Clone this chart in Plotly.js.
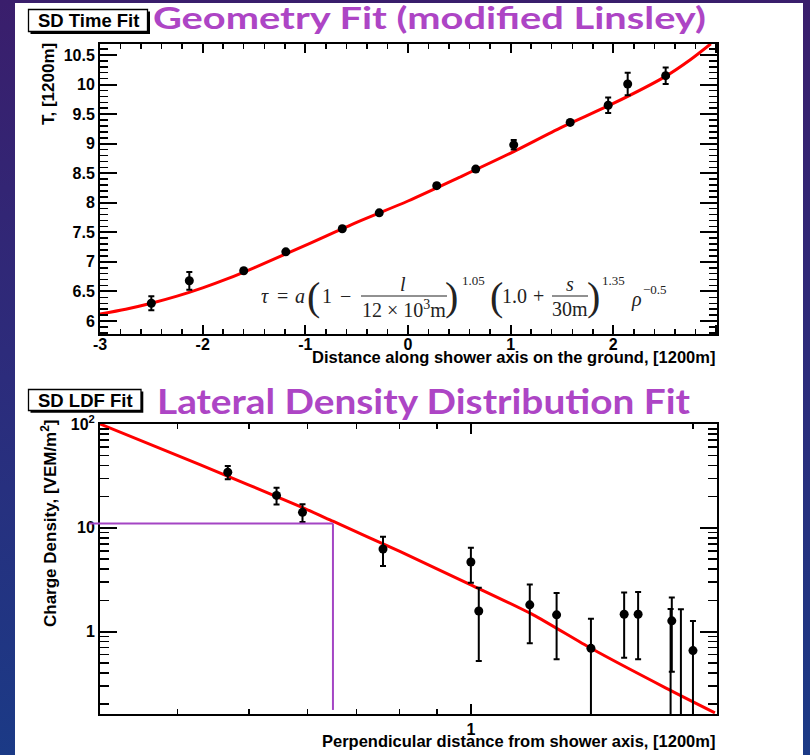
<!DOCTYPE html>
<html><head><meta charset="utf-8">
<script src="https://cdn.plot.ly/plotly-3.0.1.min.js"></script>
<style>
html,body{margin:0;padding:0;width:810px;height:755px;overflow:hidden;
background:linear-gradient(180deg,#3a1e6c 0%,#2c2c7c 50%,#1b3a86 100%);}
#chart{width:810px;height:755px;}
</style></head><body><div id="chart"></div>
<script>
// ---------- data: top panel (SD time fit) ----------
const timeX   = [-2.50, -2.13, -1.60, -1.19, -0.64, -0.28, 0.28, 0.66, 1.03, 1.58, 1.95, 2.14, 2.51];
const timeY   = [6.30, 6.68, 6.85, 7.17, 7.56, 7.83, 8.29, 8.57, 8.98, 9.36, 9.65, 10.01, 10.15];
const timeErr = [0.12, 0.15, 0.03, 0.03, 0.03, 0.03, 0.03, 0.03, 0.08, 0.03, 0.13, 0.19, 0.14];
const timeFitX = [-3.0, -2.75, -2.5, -2.25, -2.0, -1.75, -1.5, -1.0, -0.5, 0.0, 0.5, 1.0, 1.5, 2.0, 2.5, 2.75, 2.95];
const timeFitY = [6.12, 6.20, 6.30, 6.42, 6.56, 6.72, 6.90, 7.28, 7.67, 8.03, 8.43, 8.84, 9.28, 9.68, 10.13, 10.42, 10.69];
const timeXTicks = [-3, -2, -1, 0, 1, 2, 3];
const timeXTickText = ["-3", "-2", "-1", "0", "1", "2", ""];

// ---------- data: bottom panel (LDF fit) ----------
const ldfX   = [0.468, 0.545, 0.591, 0.760, 1.000, 1.025, 1.202, 1.307, 1.455, 1.614, 1.686, 1.866, 1.873, 1.927, 2.001];
const ldfY   = [34.3, 20.5, 14.1, 6.24, 4.68, 1.58, 1.81, 1.45, 0.69, 1.47, 1.47, 0.10, 1.27, 0.12, 0.656];
const ldfErr = [5.0, 3.75, 2.75, 1.95, 1.73, 1.06, 1.04, 0.91, 0.64, 0.91, 0.93, 1.55, 0.86, 1.52, 0.61];
const ldfFitX = [0.314, 0.429, 0.586, 0.651, 0.801, 1.0, 1.215, 1.455, 1.842, 2.143];
const ldfFitY = [100, 40.6, 16.1, 11.5, 5.92, 2.82, 1.45, 0.69, 0.284, 0.165];
const ldfYTicks = [1, 10, 100];
const ldfYTickText = ["1", "10", "10<sup>2</sup>"];
const ldfYMinor = [0.2,0.3,0.4,0.5,0.6,0.7,0.8,0.9,2,3,4,5,6,7,8,9,20,30,40,50,60,70,80,90];
const ldfXTicks = [1];
const ldfXTickText = ["1"];
const ldfXMinor = [0.4,0.5,0.6,0.7,0.8,0.9,2];
const s800X = 0.65, s800Y = 11.0;   // marked reference point

const title1 = "Geometry Fit (modified Linsley)";
const title2 = "Lateral Density Distribution Fit";

// ---------- layout helpers ----------
const W = 810, H = 755;
const px = x => x / W;
const py = y => 1 - y / H;
const xr2 = [Math.log10(0.314), Math.log10(2.157)];
const yr2 = [-0.794, 2.0];

const tickFont = {family: "Liberation Sans, Arial, sans-serif", size: 16, color: "#000", weight: "bold"};
const mathFont = {family: "Liberation Serif, Times New Roman, serif", size: 20, color: "#222"};
const parenFont = {family: "Liberation Serif, serif", size: 40, color: "#222"};
const supFont = {family: "Liberation Serif, serif", size: 13, color: "#222"};
const titleFont1 = {family: "Lato, sans-serif", size: 30, color: "#ad45c5", weight: "bold"};
const titleFont2 = {family: "Lato, sans-serif", size: 35, color: "#ad45c5", weight: "bold"};
const axTitleFont = {family: "Liberation Sans, Arial, sans-serif", size: 16.5, color: "#000", weight: "bold"};
const ayTitleFont = {family: "Liberation Sans, Arial, sans-serif", size: 17, color: "#000", weight: "bold"};
const boxFont = {family: "Liberation Sans, Arial, sans-serif", size: 18.5, color: "#000", weight: "bold"};

const traces = [
  {x: timeFitX, y: timeFitY, type: "scatter", mode: "lines", xaxis: "x", yaxis: "y",
   line: {color: "#ff0000", width: 3, shape: "spline", smoothing: 0.8}, hoverinfo: "skip"},
  {x: timeX, y: timeY, type: "scatter", mode: "markers", xaxis: "x", yaxis: "y",
   marker: {color: "#000", size: 9},
   error_y: {type: "data", array: timeErr, visible: true, color: "#000", thickness: 2, width: 3}},
  {x: ldfFitX, y: ldfFitY, type: "scatter", mode: "lines", xaxis: "x2", yaxis: "y2",
   line: {color: "#ff0000", width: 3, shape: "spline", smoothing: 0.6}, hoverinfo: "skip"},
  {x: ldfX, y: ldfY, type: "scatter", mode: "markers", xaxis: "x2", yaxis: "y2",
   marker: {color: "#000", size: 9},
   error_y: {type: "data", array: ldfErr, visible: true, color: "#000", thickness: 2, width: 3}}
];

const axCommon = {showline: true, linecolor: "#000", linewidth: 2, mirror: "allticks",
  ticks: "inside", tickcolor: "#000", tickwidth: 2, showgrid: false, zeroline: false,
  tickfont: tickFont, fixedrange: true};

function ann(text, x, y, font, extra) {
  return Object.assign({xref: "paper", yref: "paper", x: px(x), y: py(y), text: text,
    showarrow: false, font: font, xanchor: "center", yanchor: "middle"}, extra || {});
}

const annotations = [
  // boxes + titles
  ann("SD Time Fit", 88, 20.5, boxFont),
  ann(title1, 429.5, 17, titleFont1),
  ann("SD LDF Fit", 85, 400, boxFont),
  ann(title2, 423.5, 400, titleFont2),
  // axis titles
  ann("T, [1200m]", 49, 84, ayTitleFont, {textangle: -90}),
  ann("Distance along shower axis on the ground, [1200m]", 717, 357, axTitleFont, {xanchor: "right"}),
  ann("Charge Density, [VEM/m<sup>2</sup>]", 49, 523, ayTitleFont, {textangle: -90}),
  ann("Perpendicular distance from shower axis, [1200m]", 717, 741, axTitleFont, {xanchor: "right"}),
  // formula
  ann("<i>τ</i>", 265, 296, mathFont),
  ann("=", 282, 296, mathFont),
  ann("<i>a</i>", 300, 296, mathFont),
  ann("(", 313.5, 296, parenFont),
  ann("1", 327, 296, mathFont),
  ann("−", 345, 296, mathFont),
  ann("<i>l</i>", 403, 284, mathFont),
  ann("12 × 10<sup>3</sup>m", 404, 309, mathFont),
  ann(")", 451.5, 296, parenFont),
  ann("1.05", 473, 281, supFont),
  ann("(", 496.5, 296, parenFont),
  ann("1.0", 514, 296, mathFont),
  ann("+", 538, 296, mathFont),
  ann("<i>s</i>", 570, 284, mathFont),
  ann("30m", 570, 309, mathFont),
  ann(")", 593.5, 296, parenFont),
  ann("1.35", 613.5, 281, supFont),
  ann("<i>ρ</i>", 636, 299, mathFont),
  ann("−0.5", 655, 289, supFont)
];

// x position (domain fraction) of marked point on log axis
const s800Dom = (Math.log10(s800X) - xr2[0]) / (xr2[1] - xr2[0]);

const shapes = [
  // white slide panel
  {type: "rect", xref: "paper", yref: "paper", x0: px(15), x1: px(803), y0: py(3), y1: py(760),
   fillcolor: "#fff", line: {width: 0}, layer: "below"},
  // title boxes with shadow
  {type: "rect", xref: "paper", yref: "paper", x0: px(30.5), x1: px(150), y0: py(11.5), y1: py(34),
   fillcolor: "#000", line: {width: 0}, layer: "below"},
  {type: "rect", xref: "paper", yref: "paper", x0: px(28.5), x1: px(147.5), y0: py(9.5), y1: py(31.5),
   fillcolor: "#fff", line: {color: "#000", width: 1.3}, layer: "below"},
  {type: "rect", xref: "paper", yref: "paper", x0: px(30.5), x1: px(143.3), y0: py(391.5), y1: py(412.7),
   fillcolor: "#000", line: {width: 0}, layer: "below"},
  {type: "rect", xref: "paper", yref: "paper", x0: px(28.5), x1: px(141), y0: py(389.5), y1: py(410.5),
   fillcolor: "#fff", line: {color: "#000", width: 1.3}, layer: "below"},
  // formula fraction bars
  {type: "line", xref: "paper", yref: "paper", x0: px(361), x1: px(447), y0: py(296), y1: py(296),
   line: {color: "#222", width: 1}},
  {type: "line", xref: "paper", yref: "paper", x0: px(552), x1: px(588), y0: py(296), y1: py(296),
   line: {color: "#222", width: 1}},
  // purple guide lines in LDF panel
  {type: "line", xref: "x2 domain", yref: "y2", x0: -0.018, x1: s800Dom, y0: s800Y, y1: s800Y,
   line: {color: "#a445c4", width: 2}},
  {type: "line", xref: "x2 domain", yref: "y2 domain", x0: s800Dom, x1: s800Dom,
   y0: 0.014, y1: (Math.log10(s800Y) - yr2[0]) / (yr2[1] - yr2[0]),
   line: {color: "#a445c4", width: 2}}
];

const layout = {
  width: W, height: H,
  margin: {l: 0, r: 0, t: 0, b: 0},
  paper_bgcolor: "rgba(0,0,0,0)",
  plot_bgcolor: "#fff",
  showlegend: false,
  xaxis: Object.assign({}, axCommon, {
    domain: [px(100), px(717)], range: [-3, 3.01], anchor: "y",
    tickmode: "array", tickvals: timeXTicks, ticktext: timeXTickText, ticklen: 9,
    ticklabelstandoff: -5,
    minor: {tickmode: "linear", tick0: -3, dtick: 0.2, ticklen: 5, tickwidth: 1.5, tickcolor: "#000", ticks: "inside"}
  }),
  yaxis: Object.assign({}, axCommon, {
    domain: [py(334), py(44)], range: [5.78, 10.686], anchor: "x",
    tickmode: "linear", tick0: 6, dtick: 0.5, ticklen: 17,
    minor: {tickmode: "linear", tick0: 6, dtick: 0.1, ticklen: 8, tickwidth: 1.5, tickcolor: "#000", ticks: "inside"}
  }),
  xaxis2: Object.assign({}, axCommon, {
    domain: [px(100), px(717)], type: "log", range: xr2, anchor: "y2",
    tickmode: "array", tickvals: ldfXTicks, ticktext: ldfXTickText, ticklen: 10,
    minor: {tickmode: "array", tickvals: ldfXMinor, ticklen: 5, tickwidth: 1.5, tickcolor: "#000", ticks: "inside"}
  }),
  yaxis2: Object.assign({}, axCommon, {
    domain: [py(714), py(424)], type: "log", range: yr2, anchor: "x2",
    tickmode: "array", tickvals: ldfYTicks, ticktext: ldfYTickText, ticklen: 17,
    minor: {tickmode: "array", tickvals: ldfYMinor, ticklen: 9, tickwidth: 1.5, tickcolor: "#000", ticks: "inside"}
  }),
  annotations: annotations,
  shapes: shapes
};

Plotly.newPlot("chart", traces, layout, {staticPlot: true, displayModeBar: false}).then(function () {
  // the slide titles are horizontally stretched in the reference: stretch the real text to its width
  const widths = {};
  widths[title1] = 553;
  widths[title2] = 533;
  document.querySelectorAll("text.annotation-text").forEach(function (t) {
    const w = widths[t.textContent];
    if (w) {
      t.setAttribute("textLength", w);
      t.setAttribute("lengthAdjust", "spacingAndGlyphs");
    }
  });
});
</script></body></html>
